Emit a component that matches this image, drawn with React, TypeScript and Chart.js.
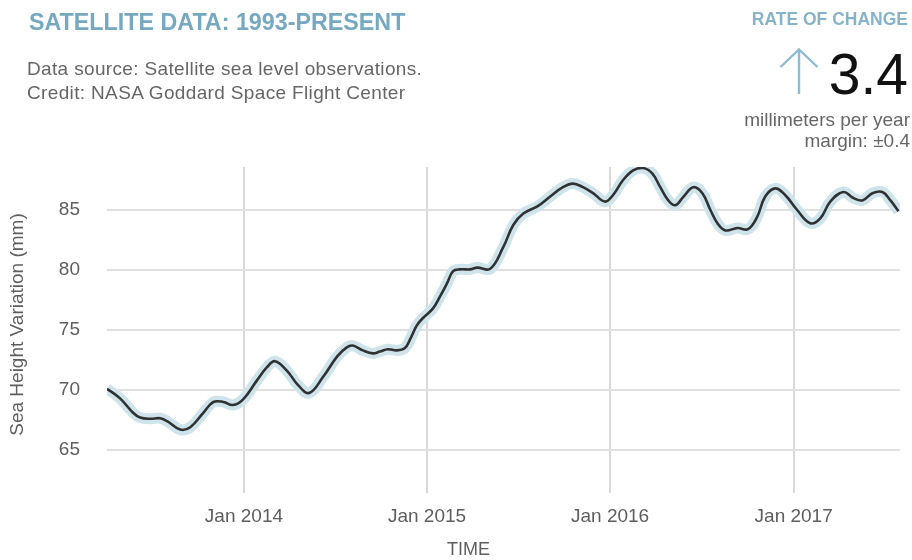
import React, { useEffect, useRef } from "react";
import { Chart, registerables } from "chart.js";

Chart.register(...registerables);

// ---- data ----
const dates = [
  "2013-04-03", "2013-04-29", "2013-05-25", "2013-06-08", "2013-06-28", "2013-07-18",
  "2013-08-01", "2013-08-27", "2013-09-16", "2013-10-12", "2013-11-01", "2013-11-21",
  "2013-12-10", "2013-12-30", "2014-01-27", "2014-02-16", "2014-03-04", "2014-03-28",
  "2014-04-19", "2014-05-11", "2014-06-08", "2014-07-06", "2014-07-25", "2014-08-06",
  "2014-08-26", "2014-09-15", "2014-09-29", "2014-10-15", "2014-11-02", "2014-11-18",
  "2014-11-28", "2014-12-12", "2014-12-24", "2015-01-13", "2015-01-27", "2015-02-10",
  "2015-02-22", "2015-03-08", "2015-03-28", "2015-04-11", "2015-05-07", "2015-06-02",
  "2015-06-22", "2015-07-12", "2015-08-09", "2015-09-03", "2015-09-29", "2015-10-19",
  "2015-11-08", "2015-11-28", "2015-12-22", "2016-01-07", "2016-01-27", "2016-02-16",
  "2016-03-07", "2016-03-25", "2016-04-10", "2016-04-26", "2016-05-10", "2016-05-26",
  "2016-06-15", "2016-07-03", "2016-07-19", "2016-08-02", "2016-08-18", "2016-09-11",
  "2016-10-02", "2016-10-20", "2016-11-05", "2016-11-25", "2016-12-15", "2017-01-08",
  "2017-02-03", "2017-02-23", "2017-03-15", "2017-04-10", "2017-04-30", "2017-05-18",
  "2017-06-07", "2017-06-27", "2017-07-13", "2017-07-29",
];

const seaHeight = [
  70.1, 69.3, 68.1, 67.7, 67.6, 67.65,
  67.4, 66.7, 66.9, 68.1, 69.0, 69.0,
  68.75, 69.2, 70.8, 71.9, 72.4, 71.6,
  70.4, 69.75, 71.1, 72.8, 73.55, 73.7,
  73.3, 73.05, 73.2, 73.4, 73.3, 73.5,
  74.2, 75.4, 76.0, 76.8, 77.8, 78.9,
  79.9, 80.05, 80.05, 80.2, 80.1, 81.9,
  83.75, 84.7, 85.3, 86.1, 86.9, 87.2,
  86.9, 86.4, 85.7, 86.25, 87.5, 88.3,
  88.5, 88.05, 86.9, 85.8, 85.4, 86.1,
  86.9, 86.4, 85.0, 83.9, 83.3, 83.5,
  83.4, 84.4, 86.1, 86.8, 86.25, 85.0,
  83.9, 84.3, 85.7, 86.5, 86.0, 85.8,
  86.4, 86.5, 85.8, 84.9,
];

const xTickYears = [2014, 2015, 2016, 2017];
const yTickValues = [65, 70, 75, 80, 85];
const xRange = ["2013-04-03", "2017-08-01"];
const yRange = [62.333, 88.583];

const toMs = (s: string) => Date.parse(s + "T00:00:00Z");
const FONT = '"Liberation Sans", Arial, Helvetica, sans-serif';

export default function App() {
  const canvasRef = useRef<HTMLCanvasElement | null>(null);

  useEffect(() => {
    const canvas = canvasRef.current;
    if (!canvas) return;
    const points = dates.map((d, i) => ({ x: toMs(d), y: seaHeight[i] }));

    const chart = new Chart(canvas, {
      type: "line",
      data: {
        datasets: [
          {
            label: "Sea height variation",
            data: points,
            borderColor: "#2f3132",
            borderWidth: 2.6,
            pointRadius: 0,
            tension: 0.4,
            fill: false,
          },
          {
            label: "Uncertainty",
            data: points,
            borderColor: "#cfe3eb",
            borderWidth: 11,
            pointRadius: 0,
            tension: 0.4,
            fill: false,
          },
        ],
      },
      options: {
        animation: false,
        responsive: false,
        devicePixelRatio: 1,
        layout: { padding: { top: 167, right: 12, bottom: 0, left: 0 } },
        plugins: {
          legend: { display: false },
          tooltip: { enabled: false },
          title: { display: false },
        },
        scales: {
          x: {
            type: "linear",
            min: toMs(xRange[0]),
            max: toMs(xRange[1]),
            afterBuildTicks: (scale: any) => {
              scale.ticks = xTickYears.map((y) => ({ value: Date.UTC(y, 0, 1) }));
            },
            afterFit: (scale: any) => {
              scale.height = 78;
            },
            border: { display: false },
            grid: {
              color: "#d9d9d9",
              lineWidth: 2,
              drawTicks: true,
              tickLength: 11,
              tickColor: "#d9d9d9",
            },
            ticks: {
              autoSkip: false,
              maxRotation: 0,
              padding: 12,
              color: "#5e5e5e",
              font: { family: FONT, size: 19 },
              callback: (v: any) => "Jan " + new Date(Number(v)).getUTCFullYear(),
            },
            title: { display: false },
          },
          y: {
            type: "linear",
            min: yRange[0],
            max: yRange[1],
            afterBuildTicks: (scale: any) => {
              scale.ticks = yTickValues.map((v) => ({ value: v }));
            },
            afterFit: (scale: any) => {
              scale.width = 107;
            },
            border: { display: false },
            grid: {
              color: "#e0e0e0",
              lineWidth: 2,
              drawTicks: false,
            },
            ticks: {
              padding: 27,
              color: "#5e5e5e",
              font: { family: FONT, size: 19 },
              callback: (v: any) => String(v),
            },
            title: {
              display: true,
              text: "Sea Height Variation (mm)",
              color: "#5e5e5e",
              font: { family: FONT, size: 19 },
              padding: { top: 6, bottom: 0 },
            },
          },
        },
      },
    });
    return () => chart.destroy();
  }, []);

  const abs: React.CSSProperties = { position: "absolute", whiteSpace: "nowrap", margin: 0 };

  return (
    <div
      style={{
        position: "absolute",
        left: 0,
        top: 0,
        width: 912,
        height: 560,
        background: "#ffffff",
        fontFamily: FONT,
        overflow: "hidden",
      }}
    >
      <canvas ref={canvasRef} width={912} height={560} style={{ position: "absolute", left: 0, top: 0, width: 912, height: 560 }} />

      <div
        style={{
          ...abs,
          left: 29,
          top: 8,
          fontSize: 24,
          lineHeight: "28px",
          fontWeight: 700,
          color: "#76a9bf",
          transform: "scaleX(0.97)",
          transformOrigin: "left top",
        }}
      >
        SATELLITE DATA: 1993-PRESENT
      </div>

      <div style={{ ...abs, left: 27, top: 57, fontSize: 19, lineHeight: "24px", color: "#666666", letterSpacing: "0.35px" }}>
        Data source: Satellite sea level observations.
        <br />
        Credit: NASA Goddard Space Flight Center
      </div>

      <div
        style={{
          ...abs,
          right: 4,
          top: 9,
          fontSize: 17.5,
          lineHeight: "20px",
          fontWeight: 700,
          color: "#86b3c6",
        }}
      >
        RATE OF CHANGE
      </div>

      <svg style={{ position: "absolute", left: 779, top: 48 }} width={40} height={47} viewBox="0 0 40 47">
        <line x1={20} y1={2} x2={20} y2={46} stroke="#8dbccc" strokeWidth={2.4} />
        <polyline points="1.5,19 20,1.5 38.5,19" fill="none" stroke="#8dbccc" strokeWidth={2.4} />
      </svg>

      <div style={{ ...abs, right: 4, top: 44, fontSize: 57, lineHeight: "60px", color: "#111111" }}>3.4</div>

      <div style={{ ...abs, right: 2, top: 109, fontSize: 19, lineHeight: "21px", color: "#666666", textAlign: "right" }}>
        millimeters per year
        <br />
        margin: ±0.4
      </div>

      <div style={{ ...abs, left: 447, top: 539, fontSize: 18, lineHeight: "20px", color: "#5e5e5e" }}>TIME</div>
    </div>
  );
}
